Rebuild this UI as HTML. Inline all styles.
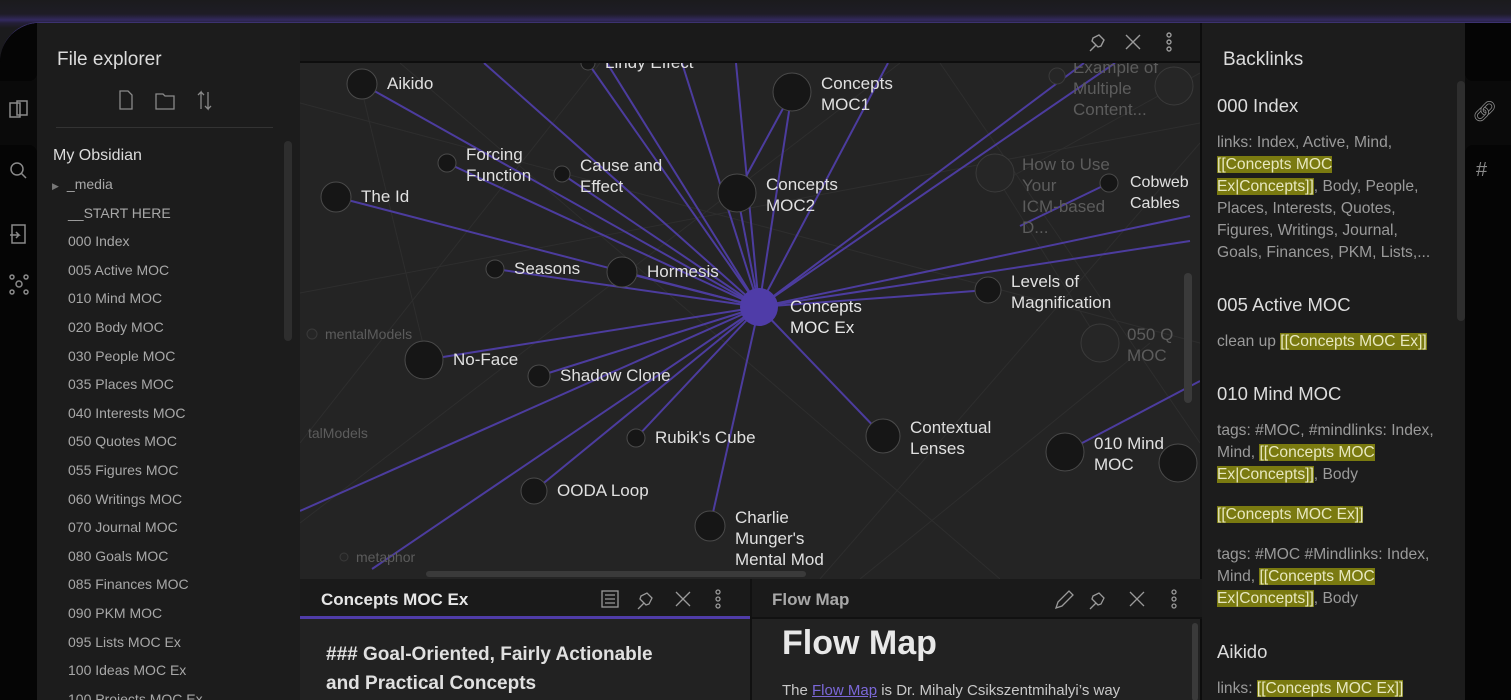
<!DOCTYPE html>
<html><head><meta charset="utf-8">
<style>
*{box-sizing:border-box;margin:0;padding:0}
body{width:1511px;height:700px;overflow:hidden;background:#1b1b1d;font-family:"Liberation Sans",sans-serif;position:relative}
.abs{position:absolute}
#glow{left:0;top:0;width:1511px;height:30px;background:linear-gradient(#1b1b1d 0,#1e1c26 14px,#33295e 20px,#241f38 23px,#1b1b1d 28px)}
#win{left:0;top:22px;width:1511px;height:678px;border-top-left-radius:40px;overflow:hidden;background:#0d0d0d;border-top:1px solid #3c3270}
#ribbonL{left:0;top:0;width:37px;height:678px;background:#0a0a0a}
#sideL{left:37px;top:0;width:263px;height:678px;background:#1c1c1c}
#graphHdr{left:300px;top:0;width:900px;height:40px;background:#1a1a1a;border-bottom:2px solid #0e0e0e}
#graph{left:300px;top:40px;width:900px;height:516px;background:#242424}
#sideR{left:1202px;top:0;width:263px;height:678px;background:#1c1c1c}
#ribbonR{left:1465px;top:0;width:46px;height:678px;background:#0a0a0a}
.fi{position:absolute;left:68px;font-size:14px;color:#a8a8a8}
.ic{color:#8a8a8a;font-size:18px}
.hl{background:#7a7a10;color:#e8e8c0}
.bl{color:#9a9a9a;font-size:15.6px;line-height:22px}
.bh{color:#dcdcdc;font-size:18.5px;line-height:21px}
</style></head><body>
<div id="glow" class="abs"></div>
<div id="win" class="abs">
 <div id="ribbonL" class="abs">
  <div class="abs" style="left:0;top:0;width:37px;height:58px;background:#050505;border-bottom-right-radius:8px"></div>
  <div class="abs" style="left:0;top:122px;width:37px;height:556px;background:#050505;border-top-right-radius:8px"></div>
  <svg class="abs" style="left:8px;top:76px" width="22" height="230" fill="none" stroke="#8a8a8a" stroke-width="1.5">
   <rect x="2" y="4" width="10" height="14"/><rect x="9" y="2" width="10" height="14"/>
   <circle cx="9" cy="70" r="6"/><line x1="13" y1="74" x2="18" y2="79"/>
   <rect x="4" y="126" width="13" height="18"/><path d="M2 136h9l-3 -3M11 136l-3 3"/>
   <circle cx="11" cy="185" r="3"/><circle cx="4" cy="178" r="2"/><circle cx="18" cy="178" r="2"/><circle cx="4" cy="193" r="2"/><circle cx="18" cy="193" r="2"/>
  </svg>
 </div>
 <div id="sideL" class="abs">
  <div class="abs" style="left:20px;top:26px;font-size:19px;color:#dcdcdc">File explorer</div>
  <svg class="abs" style="left:80px;top:66px" width="100" height="22" fill="none" stroke="#8a8a8a" stroke-width="1.3">
   <path d="M3 2h8l4 4v14H3z"/>
   <path d="M39 5h7l2 2h9v13H39z"/>
   <path d="M84 20V3l-3 3M84 3l3 3M91 3v17l-3-3M91 20l3-3"/>
  </svg>
  <div class="abs" style="left:19px;top:104px;width:217px;height:1px;background:#333"></div>
  <div class="abs" style="left:247px;top:118px;width:8px;height:200px;background:#2e2e2e;border-radius:4px"></div>
  <div class="abs" style="left:16px;top:124px;font-size:16px;color:#dcdcdc">My Obsidian</div>
  <div id="files"></div>
 </div>
 <div id="graphHdr" class="abs">
  <svg class="abs" style="left:784px;top:8px" width="110" height="24" fill="none" stroke="#9a9a9a" stroke-width="1.4">
   <path d="M6 20l6-6M8 10l6 6 3-1 3-6-5-5-6 3z"/>
   <path d="M42 4l14 14M56 4L42 18"/>
   <g><circle cx="85" cy="4" r="2"/><circle cx="85" cy="11" r="2"/><circle cx="85" cy="18" r="2"/></g>
  </svg>
 </div>
 <div id="graph" class="abs">
  <svg id="gsvg" width="900" height="516" style="position:absolute;left:0;top:0"></svg>
  <div class="abs" style="left:884px;top:210px;width:8px;height:130px;background:#3a3a3a;border-radius:4px"></div>
  <div class="abs" style="left:126px;top:508px;width:380px;height:6px;background:#3a3a3a;border-radius:3px"></div>
 </div>
 <div class="abs" style="left:300px;top:556px;width:450px;height:122px;background:#222">
  <div class="abs" style="left:0;top:0;width:450px;height:40px;background:#1a1a1a;border-bottom:3px solid #4f3ca8"></div>
  <div class="abs" style="left:21px;top:11px;font-size:17px;font-weight:bold;color:#e6e6e6">Concepts MOC Ex</div>
  <svg class="abs" style="left:300px;top:9px" width="130" height="24" fill="none" stroke="#9a9a9a" stroke-width="1.3">
   <g><rect x="2" y="3" width="16" height="16"/><path d="M5 7h10M5 11h10M5 15h10"/></g>
   <path d="M38 21l6-6M40 11l6 6 3-1 3-6-5-5-6 3z"/>
   <path d="M76 4l14 14M90 4L76 18"/>
   <g><circle cx="118" cy="4" r="2"/><circle cx="118" cy="11" r="2"/><circle cx="118" cy="18" r="2"/></g>
  </svg>
  <div class="abs" style="left:26px;top:61px;font-size:19px;font-weight:bold;color:#e0e0e0;line-height:29px;width:400px">### Goal-Oriented, Fairly Actionable<br>and Practical Concepts</div>
 </div>
 <div class="abs" style="left:750px;top:556px;width:450px;height:122px;background:#222;border-left:2px solid #111">
  <div class="abs" style="left:0;top:0;width:450px;height:40px;background:#1a1a1a;border-bottom:2px solid #111"></div>
  <div class="abs" style="left:20px;top:11px;font-size:17px;font-weight:bold;color:#a8a8a8">Flow Map</div>
  <svg class="abs" style="left:300px;top:9px" width="130" height="24" fill="none" stroke="#9a9a9a" stroke-width="1.3">
   <path d="M4 20l2-6L17 3l4 4L10 18z"/>
   <path d="M38 21l6-6M40 11l6 6 3-1 3-6-5-5-6 3z"/>
   <path d="M78 4l14 14M92 4L78 18"/>
   <g><circle cx="122" cy="4" r="2"/><circle cx="122" cy="11" r="2"/><circle cx="122" cy="18" r="2"/></g>
  </svg>
  <div class="abs" style="left:440px;top:44px;width:6px;height:78px;background:#3a3a3a;border-radius:3px"></div>
  <div class="abs" style="left:30px;top:45px;font-size:34px;font-weight:bold;color:#e8e8e8">Flow Map</div>
  <div class="abs" style="left:30px;top:103px;font-size:15px;color:#c8c8c8;white-space:nowrap">The <span style="color:#7b68d8;text-decoration:underline">Flow Map</span> is Dr. Mihaly Csikszentmihalyi’s way</div>
 </div>
 <div id="sideR" class="abs">
  <div class="abs" style="left:21px;top:26px;font-size:19px;color:#dcdcdc">Backlinks</div>
  <div class="abs" style="left:255px;top:58px;width:8px;height:240px;background:#2e2e2e;border-radius:4px"></div>
  <div class="abs" style="left:15px;top:72px;width:224px">
   <div class="bh">000 Index</div>
   <div class="bl" style="margin-top:16px">links: Index, Active, Mind, <span class="hl">[[Concepts MOC<br>Ex|Concepts]]</span>, Body, People, Places, Interests, Quotes, Figures, Writings, Journal, Goals, Finances, PKM, Lists,...</div>
   <div class="bh" style="margin-top:30px">005 Active MOC</div>
   <div class="bl" style="margin-top:16px">clean up <span class="hl">[[Concepts MOC Ex]]</span></div>
   <div class="bh" style="margin-top:30px">010 Mind MOC</div>
   <div class="bl" style="margin-top:16px">tags: #MOC, #mindlinks: Index, Mind, <span class="hl">[[Concepts MOC Ex|Concepts]]</span>, Body</div>
   <div class="bl" style="margin-top:18px"><span class="hl">[[Concepts MOC Ex]]</span></div>
   <div class="bl" style="margin-top:18px">tags: #MOC #Mindlinks: Index, Mind, <span class="hl">[[Concepts MOC Ex|Concepts]]</span>, Body</div>
   <div class="bh" style="margin-top:31px">Aikido</div>
   <div class="bl" style="margin-top:16px">links: <span class="hl">[[Concepts MOC Ex]]</span></div>
  </div>
 </div>
 <div id="ribbonR" class="abs">
  <div class="abs" style="left:0;top:0;width:46px;height:58px;background:#050505;border-bottom-left-radius:8px"></div>
  <div class="abs" style="left:0;top:122px;width:46px;height:556px;background:#050505;border-top-left-radius:8px"></div>
  <div class="abs ic" style="left:7px;top:76px;font-size:20px">🔗︎</div>
  <div class="abs ic" style="left:11px;top:136px;font-size:20px">#</div>
 </div>
</div>
<script>
const files=["_media","__START HERE","000 Index","005 Active MOC","010 Mind MOC","020 Body MOC","030 People MOC","035 Places MOC","040 Interests MOC","050 Quotes MOC","055 Figures MOC","060 Writings MOC","070 Journal MOC","080 Goals MOC","085 Finances MOC","090 PKM MOC","095 Lists MOC Ex","100 Ideas MOC Ex","100 Projects MOC Ex"];
const fc=document.getElementById('files');
files.forEach((f,i)=>{const d=document.createElement('div');d.className='fi';


d.style.left='31px';d.style.top=(153+i*28.6)+'px';d.textContent=f;
if(i==0){d.innerHTML='<span style="font-size:9px;color:#777;margin-left:-16px;margin-right:8px">▶</span>_media';}
fc.appendChild(d);});

const center={x:459,y:244,r:19,label:["Concepts","MOC Ex"]};
const nodeX=[62,288,492,147,262,437,36,195,322,688,124,239,336,583,765,234,410,878];
const nodeY=[21,0,29,100,111,130,134,206,209,227,297,313,375,373,389,428,463,400];
const nodeR=[15,7,19,9,8,19,15,9,15,13,19,11,9,17,19,13,15,19];
const nodeLabels=[["Aikido"],["Lindy Effect"],["Concepts","MOC1"],["Forcing","Function"],["Cause and","Effect"],["Concepts","MOC2"],["The Id"],["Seasons"],["Hormesis"],["Levels of","Magnification"],["No-Face"],["Shadow Clone"],["Rubik's Cube"],["Contextual","Lenses"],["010 Mind","MOC"],["OODA Loop"],["Charlie","Munger's","Mental Mod"],[""]];
const offX=[184,307,382,436,588,784,815,890,890,0,72];
const offY=[0,0,0,0,0,0,0,153,178,448,506];
const fadeNodes=[[757,13,8,["Example of","Multiple","Content..."]],[695,110,19,["How to Use","Your","ICM-based","D..."]],[800,280,19,["050 Q","MOC"]],[12,271,5,["mentalModels"]],[0,370,0,["talModels"]],[44,494,4,["metaphor"]],[874,23,19,[""]]];
const cob={x:809,y:120,r:9,label:["Cobweb","Cables"]};

const NS='http://www.w3.org/2000/svg',g=document.getElementById('gsvg');
function mk(t,a){const e=document.createElementNS(NS,t);for(const k in a)e.setAttribute(k,a[k]);g.appendChild(e);return e;}
const faint=[[0,40,900,280],[100,0,700,516],[0,230,900,60],[640,0,900,380],[700,120,900,10],[300,0,0,380],[0,460,600,0],[60,20,130,310],[520,516,900,80],[700,120,800,280],[560,516,850,280]];
faint.forEach(f=>{const l=mk('line',{x1:f[0],y1:f[1],x2:f[2],y2:f[3],stroke:'#2e2e2e',"stroke-width":1});
});
function edge(x,y){const l=mk('line',{x1:center.x,y1:center.y,x2:x,y2:y,stroke:'#4c3c9e',"stroke-width":2});
}
nodeX.forEach((x,i)=>{if(i!=14&&i!=17)edge(x,nodeY[i]);});
offX.forEach((x,i)=>edge(x,offY[i]));
mk('line',{x1:nodeX[2],y1:nodeY[2],x2:nodeX[5],y2:nodeY[5],stroke:'#4c3c9e',"stroke-width":2});
mk('line',{x1:cob.x,y1:cob.y,x2:720,y2:163,stroke:'#4c3c9e',"stroke-width":2});
mk('line',{x1:765,y1:389,x2:900,y2:318,stroke:'#4c3c9e',"stroke-width":2});
function label(lines,x,y,col,size){lines.forEach((s,j)=>{if(!s)return;const t=mk('text',{x:x,y:y+j*21,fill:col,"font-size":size,"font-family":"Liberation Sans, sans-serif"});
t.textContent=s;});}
fadeNodes.forEach(n=>{if(n[2]){const c=mk('circle',{cx:n[0],cy:n[1],r:n[2],fill:'#262626',stroke:'#3a3a3a'});
}
label(n[3],n[0]+n[2]+8,n[1]+(n[3].length>1?-3:5),'#5c5c5c',n[3].length>1?17:14);});
nodeX.forEach((x,i)=>{const c=mk('circle',{cx:x,cy:nodeY[i],r:nodeR[i],fill:'#161616',stroke:'#4a4a4a'});

const L=nodeLabels[i];label(L,x+nodeR[i]+10,nodeY[i]+(L.length>1?-3:5),'#e0e0e0',17);});
{const c=mk('circle',{cx:cob.x,cy:cob.y,r:cob.r,fill:'#161616',stroke:'#4a4a4a'});

label(cob.label,cob.x+cob.r+12,cob.y+4,'#e0e0e0',16);}
{const c=mk('circle',{cx:center.x,cy:center.y,r:center.r,fill:'#4f3ca8'});

label(center.label,center.x+center.r+12,center.y+5,'#e8e8e8',17);}
</script>
</body></html>
